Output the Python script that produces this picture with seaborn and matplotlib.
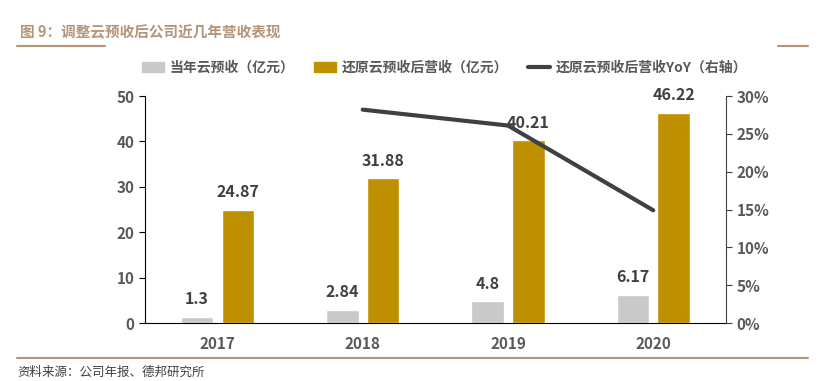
import pandas as pd
import matplotlib.pyplot as plt
import seaborn as sns
from matplotlib.lines import Line2D
from matplotlib.patches import Patch
from matplotlib.ticker import PercentFormatter

sns.set_style("white")
plt.rcParams["font.family"] = ["Noto Sans CJK SC", "DejaVu Sans"]

# Data
years = ["2017", "2018", "2019", "2020"]
advance = [1.3, 2.84, 4.8, 6.17]
restored = [24.87, 31.88, 40.21, 46.22]
yoy_years = ["2018", "2019", "2020"]
yoy = [28.2, 26.1, 14.9]

s1 = "当年云预收（亿元）"
s2 = "还原云预收后营收（亿元）"
s3 = "还原云预收后营收YoY（右轴）"

df = pd.DataFrame({
    "year": years * 2,
    "value": advance + restored,
    "series": [s1] * 4 + [s2] * 4,
})

gray = "#C9C9C9"
gold = "#BF9000"
dark = "#404040"
tick_c = "#595959"
brown = "#B39479"

fig = plt.figure(figsize=(8.23, 3.81), dpi=100)
ax = fig.add_axes([0.176, 0.152, 0.706, 0.596])

sns.barplot(data=df, x="year", y="value", hue="series", order=years,
            palette=[gray, gold], saturation=1, width=0.56, gap=0.2,
            legend=False, ax=ax)

for cont in ax.containers:
    ax.bar_label(cont, labels=[f"{v:g}" for v in cont.datavalues], padding=7,
                 fontsize=11.5, fontweight="bold", color="#404040")

ax.set_xlim(-0.5, 3.5)
ax.set_ylim(0, 50)
ax.set_yticks(range(0, 51, 10))
ax.set_xlabel("")
ax.set_ylabel("")
for sp in ["top", "right"]:
    ax.spines[sp].set_visible(False)
ax.spines["left"].set_color("#000000")
ax.spines["bottom"].set_color("#000000")
ax.tick_params(axis="y", left=True, length=4, color="#000000",
               labelsize=11, labelcolor=tick_c)
ax.tick_params(axis="x", bottom=False, labelsize=11, labelcolor=tick_c, pad=6)
for lab in ax.get_xticklabels() + ax.get_yticklabels():
    lab.set_fontweight("bold")

ax2 = ax.twinx()
sns.lineplot(x=[years.index(y) for y in yoy_years], y=yoy, color=dark,
             linewidth=3, ax=ax2)
ax2.set_ylim(0, 30)
ax2.set_yticks(range(0, 31, 5))
ax2.yaxis.set_major_formatter(PercentFormatter(decimals=0))
for sp in ["top", "left", "bottom"]:
    ax2.spines[sp].set_visible(False)
ax2.spines["right"].set_color("#404040")
ax2.tick_params(axis="y", right=True, length=4, color="#404040",
                labelsize=11, labelcolor=tick_c)
for lab in ax2.get_yticklabels():
    lab.set_fontweight("bold")

# Legend
handles = [
    Patch(color=gray, label=s1),
    Patch(color=gold, label=s2),
    Line2D([0], [0], color=dark, linewidth=3, label=s3),
]
fig.legend(handles=handles, loc="center", bbox_to_anchor=(0.54, 0.822), ncol=3,
           frameon=False, handlelength=1.6, handleheight=0.7,
           columnspacing=1.4, handletextpad=0.4,
           prop={"weight": "bold", "size": 10})
for t in fig.legends[0].get_texts():
    t.set_color(tick_c)

# Title and decorations
fig.text(0.024, 0.915, "图 9：调整云预收后公司近几年营收表现", fontsize=10.5,
         color=brown, fontweight="bold", va="center")
fig.add_artist(Line2D([0.021, 0.128], [0.879, 0.879], color=brown, linewidth=1.5))
fig.add_artist(Line2D([0.945, 0.982], [0.879, 0.879], color=brown, linewidth=1.5))
fig.add_artist(Line2D([0.021, 0.982], [0.06, 0.06], color=brown, linewidth=1.5))
fig.text(0.021, 0.022, "资料来源：公司年报、德邦研究所", fontsize=9,
         color="#404040", va="center")

plt.savefig("out.png", dpi=100)
